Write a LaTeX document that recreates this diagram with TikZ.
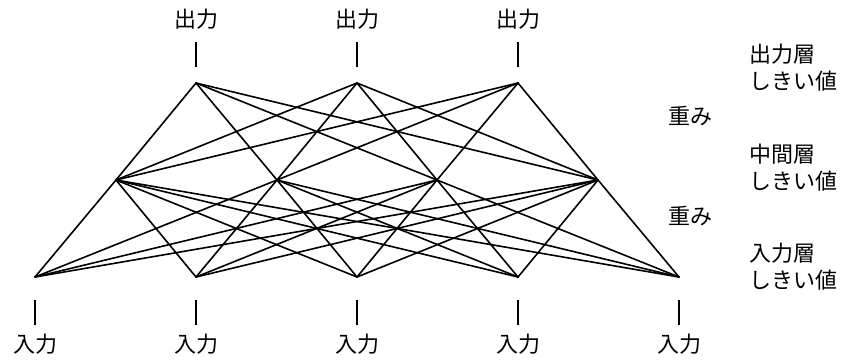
\documentclass[tikz,border=0pt]{standalone}
\usepackage{fontspec}
\newfontfamily\jpfont{Noto Sans CJK JP}
\usetikzlibrary{positioning}
\begin{document}
\begin{tikzpicture}[x=1pt,y=-1pt,
 lbl/.style={font=\jpfont\fontsize{22}{27}\selectfont,inner sep=0pt},
 side/.style={lbl,anchor=west,align=left},
 link/.style={line width=1.6pt,line cap=round},
 tickline/.style={line width=1.8pt}
]
\useasboundingbox (0,0) rectangle (856,360);
% layers
\foreach \i/\x in {1/35,2/196,3/357,4/518,5/679}{
  \coordinate (in\i) at (\x,277);
  \coordinate (inA\i) at (\x,300);
  \coordinate (inB\i) at (\x,325);
  \node[lbl] (inlbl\i) at (\x,344) {入力};
  \draw[tickline] (inA\i) -- (inB\i);
}
\foreach \i/\x in {1/116,2/277,3/437,4/598}
  \coordinate (mid\i) at (\x,180);
\foreach \i/\x in {1/196,2/357,3/518}{
  \coordinate (out\i) at (\x,83);
  \coordinate (outA\i) at (\x,42);
  \coordinate (outB\i) at (\x,67);
  \node[lbl] (outlbl\i) at (\x,19) {出力};
  \draw[tickline] (outA\i) -- (outB\i);
}
% weights
\foreach \i in {1,...,5}
  \foreach \j in {1,...,4}
    \draw[link] (in\i) -- (mid\j);
\foreach \j in {1,...,4}
  \foreach \k in {1,...,3}
    \draw[link] (mid\j) -- (out\k);
% side notes
\node[side] (outthr) at (749,67.5) {出力層\\しきい値};
\node[side] (midthr) at (749,168) {中間層\\しきい値};
\node[side] (inthr) at (749,267) {入力層\\しきい値};
\node[side] (wtop) at (668,116) {重み};
\node[side] (wbot) at (668,216) {重み};
\end{tikzpicture}
\end{document}
